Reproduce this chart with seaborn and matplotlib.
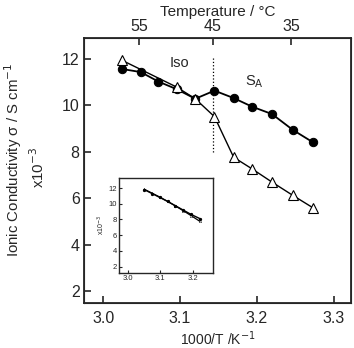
import numpy as np
import pandas as pd
import matplotlib
matplotlib.use("Agg")
import matplotlib.pyplot as plt
import seaborn as sns

# ---- data ----
inv_T = [3.025, 3.049, 3.072, 3.096, 3.120, 3.145, 3.170, 3.194, 3.220, 3.247, 3.273]
sigma_filled = [11.56, 11.43, 11.02, 10.69, 10.28, 10.63, 10.31, 9.94, 9.62, 8.94, 8.41]

inv_T_open = [3.025, 3.096, 3.120, 3.145, 3.170, 3.194, 3.220, 3.247, 3.273]
sigma_open = [11.93, 10.78, 10.28, 9.51, 7.76, 7.26, 6.69, 6.12, 5.59]

inset_x = [3.050, 3.074, 3.098, 3.122, 3.146, 3.170, 3.194, 3.222]
inset_filled = [11.80, 11.30, 10.80, 10.30, 9.75, 9.20, 8.65, 8.10]
inset_open = [11.85, 11.35, 10.85, 10.30, 9.72, 9.12, 8.50, 7.75]

top_temps = [55, 45, 35]
transition_T = 45

sns.set_style("ticks")
plt.rcParams['font.family'] = ['Liberation Sans', 'DejaVu Sans']
plt.rcParams['xtick.direction'] = 'in'
plt.rcParams['ytick.direction'] = 'in'

fig = plt.figure(figsize=(3.54, 3.48), dpi=100)
ax = fig.add_axes([0.237, 0.129, 0.755, 0.762])

sns.lineplot(x=inv_T, y=sigma_filled, ax=ax, sort=False, color='black', lw=1.3,
             marker='o', markersize=6, markerfacecolor='black', markeredgecolor='black', zorder=3)
sns.lineplot(x=inv_T_open, y=sigma_open, ax=ax, sort=False, color='black', lw=1.0,
             marker='^', markersize=7.5, markerfacecolor='white', markeredgecolor='black',
             markeredgewidth=0.8, zorder=4)

x_tr = 1000 / (transition_T + 273.15)
ax.vlines(x_tr, 8.0, 12.1, colors='black', linestyles=':', lw=0.9)

ax.text(3.100, 11.83, "Iso", fontsize=10.5, ha='center', va='center')
ax.text(3.197, 11.0, r"S$_\mathrm{A}$", fontsize=10.5, ha='center', va='center')

ax.set_xlim(2.975, 3.323)
ax.set_ylim(1.48, 12.9)
ax.set_xticks([3.0, 3.1, 3.2, 3.3])
ax.set_xticklabels(["3.0", "3.1", "3.2", "3.3"])
ax.set_yticks([2, 4, 6, 8, 10, 12])
ax.tick_params(axis='both', labelsize=11.5, length=5, width=1.2, pad=3)
ax.tick_params(axis='x', pad=6)
for s in ax.spines.values():
    s.set_linewidth(1.3)
ax.set_xlabel("1000/T /K$^{-1}$", fontsize=10, labelpad=2)
ax.set_ylabel("")

ax2 = ax.twiny()
ax2.set_xlim(ax.get_xlim())
ax2.set_xticks([1000 / (t + 273.15) for t in top_temps])
ax2.set_xticklabels([str(t) for t in top_temps])
ax2.tick_params(axis='x', labelsize=11.5, length=5, width=1.2, pad=3, direction='in')
ax2.set_xlabel("Temperature / °C", fontsize=11, labelpad=2)

fig.text(0.036, 0.54, "Ionic Conductivity σ / S cm$^{-1}$", rotation=90,
         fontsize=10.8, ha='center', va='center')
fig.text(0.107, 0.52, "x10$^{-3}$", rotation=90, fontsize=10.8, ha='center', va='center')

# ---- inset ----
axi = fig.add_axes([0.336, 0.216, 0.266, 0.273])
sns.lineplot(x=inset_x, y=inset_open, ax=axi, sort=False, color='black', lw=0.9,
             marker='^', markersize=1.8, markerfacecolor='white', markeredgecolor='black',
             markeredgewidth=0.3)
sns.lineplot(x=inset_x, y=inset_filled, ax=axi, sort=False, color='black', lw=1.0,
             marker='o', markersize=1.6, markerfacecolor='black', markeredgecolor='black')
axi.set_xlim(2.972, 3.2625)
axi.set_ylim(1.2, 13.3)
axi.set_xticks([3.0, 3.1, 3.2])
axi.set_xticklabels(["3.0", "3.1", "3.2"])
axi.set_yticks([2, 4, 6, 8, 10, 12])
axi.tick_params(axis='both', labelsize=5.5, length=2.5, width=0.8, pad=1.5)
for s in axi.spines.values():
    s.set_linewidth(1.0)
axi.set_ylabel("x10$^{-3}$", fontsize=5, labelpad=1)

fig.savefig("out.png", dpi=100)
